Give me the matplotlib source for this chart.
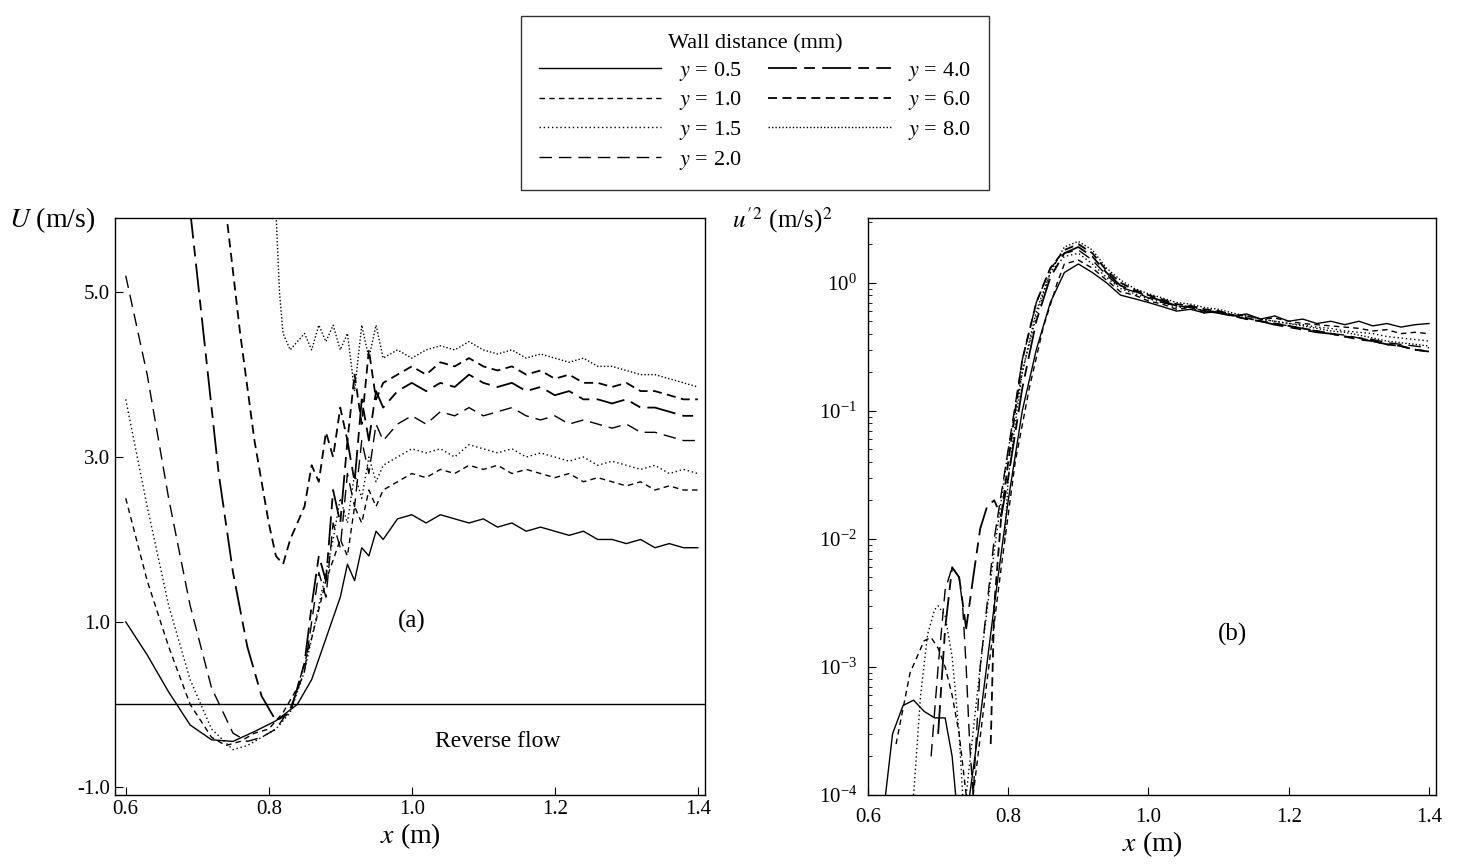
import numpy as np
import matplotlib.pyplot as plt

plt.rcParams['font.family'] = ['Liberation Serif', 'DejaVu Serif']
plt.rcParams['mathtext.fontset'] = 'stix'

labels = ['$y$ = 0.5', '$y$ = 1.0', '$y$ = 1.5', '$y$ = 2.0', '$y$ = 4.0', '$y$ = 6.0', '$y$ = 8.0']
styles = ['-', (0, (4, 3)), (0, (1, 2)), (0, (9, 5)), (0, (16, 4, 6, 4)), (0, (5, 3)), (0, (1, 1.5))]
widths = [1.0, 1.0, 1.0, 1.0, 1.3, 1.3, 1.0]

# ---- panel (a): mean velocity U ----
tail_x_a = np.round(np.arange(0.96, 1.401, 0.02), 3)

a_head_x = [
    [0.6, 0.63, 0.66, 0.69, 0.72, 0.75, 0.78, 0.81, 0.84, 0.86, 0.88, 0.90, 0.91, 0.92, 0.93, 0.94, 0.95],
    [0.6, 0.63, 0.66, 0.69, 0.72, 0.74, 0.76, 0.78, 0.80, 0.82, 0.84, 0.86, 0.88, 0.90, 0.91, 0.92, 0.93, 0.94, 0.95],
    [0.6, 0.63, 0.66, 0.69, 0.72, 0.75, 0.77, 0.79, 0.81, 0.83, 0.85, 0.87, 0.89, 0.90, 0.91, 0.92, 0.93, 0.94, 0.95],
    [0.6, 0.63, 0.66, 0.69, 0.72, 0.75, 0.77, 0.79, 0.81, 0.83, 0.85, 0.86, 0.87, 0.88, 0.89, 0.90, 0.91, 0.92, 0.93, 0.94, 0.95],
    [0.69, 0.71, 0.73, 0.75, 0.77, 0.79, 0.81, 0.83, 0.85, 0.86, 0.87, 0.88, 0.89, 0.90, 0.91, 0.92, 0.93, 0.94, 0.95],
    [0.74, 0.76, 0.78, 0.80, 0.81, 0.82, 0.83, 0.84, 0.85, 0.86, 0.87, 0.88, 0.89, 0.90, 0.91, 0.92, 0.93, 0.94, 0.95],
    [0.81, 0.815, 0.82, 0.83, 0.84, 0.85, 0.86, 0.87, 0.88, 0.89, 0.90, 0.91, 0.92, 0.93, 0.94, 0.95],
]
a_head_y = [
    [1.0, 0.6, 0.15, -0.25, -0.43, -0.45, -0.33, -0.2, 0.0, 0.3, 0.8, 1.3, 1.7, 1.5, 1.9, 1.8, 2.1],
    [2.5, 1.5, 0.7, 0.0, -0.4, -0.5, -0.45, -0.35, -0.3, -0.1, 0.2, 0.8, 1.5, 2.0, 1.8, 2.4, 2.2, 2.6, 2.4],
    [3.7, 2.4, 1.2, 0.3, -0.3, -0.55, -0.5, -0.4, -0.3, -0.1, 0.4, 1.2, 2.0, 2.5, 2.2, 2.8, 2.5, 3.0, 2.7],
    [5.2, 4.0, 2.5, 1.2, 0.2, -0.35, -0.45, -0.4, -0.3, -0.05, 0.4, 1.0, 1.6, 1.3, 2.2, 1.9, 2.8, 2.4, 3.2, 2.8, 3.4],
    [6.0, 4.4, 2.8, 1.6, 0.7, 0.1, -0.2, -0.1, 0.5, 1.2, 1.8, 1.5, 2.6, 2.2, 3.2, 2.7, 3.7, 3.2, 3.8],
    [6.0, 4.5, 3.2, 2.2, 1.8, 1.7, 2.0, 2.2, 2.4, 2.9, 2.7, 3.3, 3.0, 3.6, 3.2, 4.0, 3.4, 4.3, 3.7],
    [6.0, 5.0, 4.5, 4.3, 4.4, 4.5, 4.3, 4.6, 4.4, 4.6, 4.3, 4.5, 3.8, 4.6, 4.2, 4.6],
]
a_tail_y = [
    [2.0, 2.25, 2.3, 2.2, 2.3, 2.25, 2.2, 2.25, 2.15, 2.2, 2.1, 2.15, 2.1, 2.05, 2.1, 2.0, 2.0, 1.95, 2.0, 1.9, 1.95, 1.9, 1.9],
    [2.6, 2.7, 2.8, 2.75, 2.85, 2.8, 2.9, 2.85, 2.9, 2.8, 2.85, 2.8, 2.75, 2.8, 2.7, 2.75, 2.7, 2.65, 2.7, 2.6, 2.65, 2.6, 2.6],
    [2.9, 3.0, 3.1, 3.05, 3.1, 3.0, 3.15, 3.1, 3.05, 3.1, 3.0, 3.05, 3.0, 2.95, 3.0, 2.9, 2.95, 2.9, 2.85, 2.9, 2.8, 2.85, 2.8],
    [3.2, 3.4, 3.5, 3.4, 3.55, 3.5, 3.6, 3.5, 3.55, 3.6, 3.5, 3.45, 3.5, 3.4, 3.45, 3.4, 3.35, 3.4, 3.3, 3.3, 3.25, 3.2, 3.2],
    [3.6, 3.8, 3.9, 3.8, 3.9, 3.85, 4.0, 3.9, 3.85, 3.9, 3.8, 3.85, 3.75, 3.8, 3.7, 3.7, 3.65, 3.7, 3.6, 3.6, 3.55, 3.5, 3.5],
    [3.9, 4.0, 4.1, 4.0, 4.15, 4.1, 4.2, 4.1, 4.05, 4.1, 4.0, 4.05, 3.95, 4.0, 3.9, 3.9, 3.85, 3.9, 3.8, 3.8, 3.75, 3.7, 3.7],
    [4.2, 4.3, 4.2, 4.3, 4.35, 4.3, 4.4, 4.3, 4.25, 4.3, 4.2, 4.25, 4.2, 4.15, 4.2, 4.1, 4.1, 4.05, 4.0, 4.0, 3.95, 3.9, 3.85],
]

# ---- panel (b): u'^2 (log) ----
tail_x_b = np.round(np.arange(0.90, 1.401, 0.02), 3)
nan = np.nan
b_head_x = [
    [0.625, 0.635, 0.65, 0.665, 0.68, 0.695, 0.71, 0.72, 0.725, nan, 0.745, 0.76, 0.78, 0.80, 0.82, 0.84, 0.86, 0.88],
    [0.64, 0.66, 0.68, 0.69, 0.70, 0.71, 0.72, 0.73, 0.74, nan, 0.75, 0.77, 0.79, 0.81, 0.83, 0.85, 0.87, 0.88],
    [0.665, 0.675, 0.685, 0.695, 0.70, 0.71, 0.72, 0.73, 0.735, nan, 0.74, 0.76, 0.78, 0.80, 0.82, 0.84, 0.86, 0.88],
    [0.69, 0.70, 0.71, 0.72, 0.73, 0.735, 0.74, 0.745, 0.75, 0.76, 0.78, 0.80, 0.82, 0.84, 0.86, 0.88],
    [0.70, 0.71, 0.72, 0.73, 0.74, 0.75, 0.76, 0.77, 0.78, 0.79, 0.80, 0.82, 0.84, 0.86, 0.88],
    [0.775, 0.78, 0.79, 0.80, 0.81, 0.82, 0.84, 0.86, 0.88],
    [0.795, 0.80, 0.81, 0.82, 0.84, 0.86, 0.88],
]
b_head_y = [
    [1e-4, 3e-4, 5e-4, 5.5e-4, 4.5e-4, 4e-4, 4e-4, 2e-4, 1e-4, nan, 1e-4, 4e-4, 3e-3, 2e-2, 0.1, 0.3, 0.7, 1.2],
    [2.5e-4, 9e-4, 1.6e-3, 1.7e-3, 1.4e-3, 1e-3, 6e-4, 3e-4, 1e-4, nan, 1e-4, 8e-4, 6e-3, 4e-2, 0.15, 0.45, 1.0, 1.4],
    [1e-4, 6e-4, 1.8e-3, 2.8e-3, 3e-3, 2.5e-3, 1.2e-3, 3e-4, 1e-4, nan, 1e-4, 1e-3, 8e-3, 5e-2, 0.2, 0.55, 1.2, 1.6],
    [2e-4, 1e-3, 4e-3, 6e-3, 5e-3, 3e-3, 1e-3, 2.5e-4, 1e-4, 1e-3, 1e-2, 5e-2, 0.25, 0.7, 1.3, 1.7],
    [3e-4, 2e-3, 6e-3, 5e-3, 2e-3, 5e-3, 1.2e-2, 1.8e-2, 2e-2, 1.5e-2, 3e-2, 0.15, 0.5, 1.1, 1.7],
    [2.5e-4, 3e-3, 1.5e-2, 4e-2, 0.1, 0.25, 0.7, 1.3, 1.8],
    [1e-2, 3e-2, 0.08, 0.2, 0.6, 1.2, 1.9],
]
b_tail_y = [
    [1.4, 1.2, 1.0, 0.8, 0.75, 0.7, 0.65, 0.6, 0.62, 0.58, 0.6, 0.55, 0.57, 0.52, 0.55, 0.5, 0.52, 0.48, 0.5, 0.47, 0.5, 0.46, 0.48, 0.45, 0.47, 0.48],
    [1.5, 1.3, 1.05, 0.85, 0.8, 0.72, 0.68, 0.62, 0.64, 0.58, 0.6, 0.56, 0.55, 0.52, 0.53, 0.5, 0.48, 0.47, 0.46, 0.45, 0.44, 0.42, 0.43, 0.4, 0.41, 0.4],
    [1.7, 1.4, 1.1, 0.9, 0.82, 0.75, 0.7, 0.64, 0.65, 0.6, 0.6, 0.56, 0.55, 0.52, 0.5, 0.48, 0.47, 0.45, 0.44, 0.42, 0.41, 0.4, 0.38, 0.37, 0.36, 0.35],
    [1.8, 1.5, 1.15, 0.92, 0.85, 0.76, 0.7, 0.66, 0.64, 0.6, 0.58, 0.55, 0.52, 0.5, 0.48, 0.46, 0.44, 0.42, 0.4, 0.39, 0.37, 0.36, 0.34, 0.33, 0.32, 0.31],
    [1.9, 1.6, 1.2, 0.95, 0.86, 0.78, 0.72, 0.66, 0.65, 0.6, 0.58, 0.55, 0.52, 0.5, 0.47, 0.45, 0.43, 0.41, 0.4, 0.38, 0.36, 0.35, 0.33, 0.32, 0.3, 0.29],
    [2.0, 1.7, 1.25, 1.0, 0.88, 0.8, 0.74, 0.68, 0.66, 0.62, 0.6, 0.56, 0.53, 0.5, 0.48, 0.46, 0.44, 0.42, 0.4, 0.38, 0.37, 0.35, 0.33, 0.32, 0.3, 0.29],
    [2.1, 1.8, 1.3, 1.05, 0.9, 0.82, 0.76, 0.7, 0.68, 0.64, 0.62, 0.58, 0.55, 0.52, 0.5, 0.48, 0.46, 0.44, 0.42, 0.41, 0.39, 0.37, 0.35, 0.34, 0.33, 0.32],
]

fig = plt.figure(figsize=(14.58, 8.68), dpi=100)
ax1 = fig.add_axes([115 / 1458, 1 - 795 / 868, 590 / 1458, 577 / 868])
ax2 = fig.add_axes([868 / 1458, 1 - 795 / 868, 568 / 1458, 577 / 868])

handles = []
for i in range(7):
    xs = list(a_head_x[i]) + list(tail_x_a)
    ys = list(a_head_y[i]) + list(a_tail_y[i])
    h, = ax1.plot(xs, ys, color='black', linestyle=styles[i], lw=widths[i], label=labels[i])
    handles.append(h)
    xs = list(b_head_x[i]) + list(tail_x_b)
    ys = list(b_head_y[i]) + list(b_tail_y[i])
    ax2.plot(xs, ys, color='black', linestyle=styles[i], lw=widths[i])

ax1.axhline(0, color='black', lw=1.0)
ax1.set_xlim(0.585, 1.41)
ax1.set_ylim(-1.1, 5.9)
ax1.set_xticks([0.6, 0.8, 1.0, 1.2, 1.4])
ax1.set_yticks([5.0, 3.0, 1.0, -1.0])
ax1.set_yticklabels(['5.0', '3.0', '1.0', '-1.0'])
ax1.text(1.0, 1.0, '(a)', fontsize=18, ha='center', va='center')
ax1.text(1.12, -0.45, 'Reverse flow', fontsize=17, ha='center', va='center')
ax1.set_xlabel('$x$ (m)', fontsize=20, labelpad=2)
ax1.text(-0.18, 0.97, '$U$ (m/s)', transform=ax1.transAxes, fontsize=20, va='bottom')

ax2.set_yscale('log')
ax2.set_xlim(0.61, 1.41)
ax2.set_ylim(1e-4, 3.2)
ax2.set_xticks([0.6, 0.8, 1.0, 1.2, 1.4])
ax2.set_xticklabels(['0.6', '0.8', '1.0', '1.2', '1.4'])
ax2.set_yticks([1e-4, 1e-3, 1e-2, 1e-1, 1e0])
ax2.text(1.12, 1.8e-3, '(b)', fontsize=18, ha='center', va='center')
ax2.set_xlabel('$x$ (m)', fontsize=20, labelpad=2)
ax2.text(-0.24, 0.97, "$u'^{2}$ (m/s)$^{2}$", transform=ax2.transAxes, fontsize=18, va='bottom')

for ax in (ax1, ax2):
    ax.tick_params(direction='in', labelsize=15, length=6, top=False, right=False)
    ax.tick_params(which='minor', direction='in', length=3)
    for s in ax.spines.values():
        s.set_linewidth(1.0)
ax2.tick_params(axis='x', pad=9)
ax2.tick_params(axis='y', pad=8)

leg = fig.legend(handles=handles, loc='upper center', bbox_to_anchor=(755 / 1458, 1 - 5 / 868),
                 ncol=2, title='Wall distance (mm)', fontsize=16, title_fontsize=16,
                 frameon=True, fancybox=False, edgecolor='black', handlelength=5.5,
                 columnspacing=1.2, labelspacing=0.3, borderpad=0.8)
leg.get_frame().set_linewidth(1.0)

fig.savefig('out.png', dpi=100)
